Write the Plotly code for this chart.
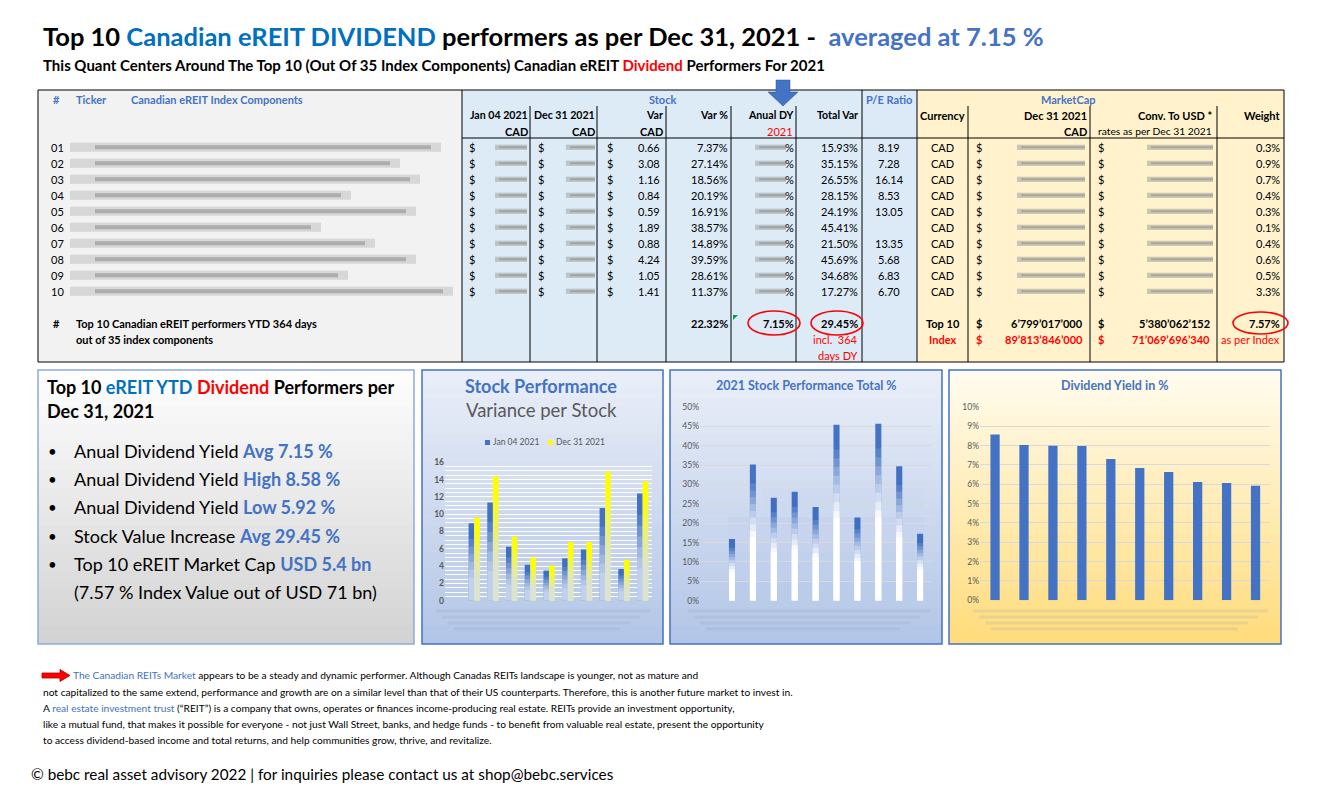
import plotly.graph_objects as go

# ======================= DATA =======================
row_ids = ["01", "02", "03", "04", "05", "06", "07", "08", "09", "10"]
jan_04_2021 = [8.96, 11.35, 6.25, 4.16, 3.49, 4.90, 5.91, 10.71, 3.67, 12.40]
dec_31_2021 = [9.62, 14.43, 7.41, 5.00, 4.08, 6.79, 6.79, 14.95, 4.72, 13.81]
var_cad = [0.66, 3.08, 1.16, 0.84, 0.59, 1.89, 0.88, 4.24, 1.05, 1.41]
var_pct = [7.37, 27.14, 18.56, 20.19, 16.91, 38.57, 14.89, 39.59, 28.61, 11.37]
total_var_pct = [15.93, 35.15, 26.55, 28.15, 24.19, 45.41, 21.50, 45.69, 34.68, 17.27]
pe_ratio = [8.19, 7.28, 16.14, 8.53, 13.05, None, 13.35, 5.68, 6.83, 6.70]
dividend_yield_pct = [8.58, 8.03, 7.99, 7.98, 7.31, 6.84, 6.64, 6.12, 6.07, 5.92]
weight_pct = [0.3, 0.9, 0.7, 0.4, 0.3, 0.1, 0.4, 0.6, 0.5, 3.3]
currency = ["CAD"] * 10

avg_var_pct = 22.32
avg_dividend_yield = 7.15
avg_total_var = 29.45
top10_mcap_cad = 6799017000
top10_mcap_usd = 5380062152
index_mcap_cad = 89813846000
index_mcap_usd = 71069696340
top10_weight_pct = 7.57

# ======================= HELPERS =======================
W, H = 1332, 800
FONT = "Lato, 'Open Sans', sans-serif"
NARROW = "'Liberation Sans Narrow', Lato, sans-serif"
BLUE = "#4472c4"
DBLUE = "#0070c0"
RED = "#ff0000"
GREY = "#595959"
TS = 11  # table font size


def px(x):
    return x / W


def py(y):
    return 1 - y / H


ann = []
shp = []


def txt(x, y, s, size=TS, color="#000000", bold=False, anchor="left", family=FONT):
    if bold:
        s = "<b>" + s + "</b>"
    ann.append(dict(x=px(x), y=py(y), xref="paper", yref="paper", text=s, showarrow=False,
                    xanchor=anchor, yanchor="middle", borderpad=0,
                    font=dict(size=size, color=color, family=family)))


def rect(x0, y0, x1, y1, fill="rgba(0,0,0,0)", line="rgba(0,0,0,0)", lw=0, layer="below", opacity=1.0):
    shp.append(dict(type="rect", xref="paper", yref="paper", x0=px(x0), x1=px(x1), y0=py(y1), y1=py(y0),
                    fillcolor=fill, line=dict(color=line, width=lw), layer=layer, opacity=opacity))


def seg(x0, y0, x1, y1, color="#000000", lw=1, layer="above"):
    shp.append(dict(type="line", xref="paper", yref="paper", x0=px(x0), y0=py(y0), x1=px(x1), y1=py(y1),
                    line=dict(color=color, width=lw), layer=layer))


def poly(points, fill, line=None, lw=0, layer="above"):
    d = "M " + " L ".join(f"{px(a):.5f},{py(b):.5f}" for a, b in points) + " Z"
    shp.append(dict(type="path", xref="paper", yref="paper", path=d, fillcolor=fill,
                    line=dict(color=line or fill, width=lw), layer=layer))


def ellipse(x0, y0, x1, y1, color=RED, lw=1.6):
    shp.append(dict(type="circle", xref="paper", yref="paper", x0=px(x0), x1=px(x1), y0=py(y1), y1=py(y0),
                    line=dict(color=color, width=lw), fillcolor="rgba(0,0,0,0)", layer="above"))


def hexrgb(h):
    return tuple(int(h[i:i + 2], 16) for i in (1, 3, 5))


def vgrad(x0, y0, x1, y1, ctop, cbot, n=30):
    a, b = hexrgb(ctop), hexrgb(cbot)
    step = (y1 - y0) / n
    for i in range(n):
        t = i / (n - 1)
        c = tuple(round(a[k] + (b[k] - a[k]) * t) for k in range(3))
        rect(x0, y0 + i * step, x1, min(y1, y0 + (i + 1) * step + 0.7), fill=f"rgb{c}")


def money(v):
    return f"{v:,}".replace(",", "\u2019")


# ======================= TITLE =======================
txt(42, 36, "Top 10 <span style='color:%s'>Canadian eREIT DIVIDEND</span> performers as per Dec 31, 2021 -  "
            "<span style='color:%s'>averaged at %.2f %%</span>" % (DBLUE, BLUE, avg_dividend_yield),
    size=25.5, bold=True)
txt(42, 65, "This Quant Centers Around The Top 10 (Out Of 35 Index Components) Canadian eREIT "
            "<span style='color:#ff0000'>Dividend</span> Performers For 2021", size=15, bold=True)

# ======================= TABLE =======================
TOP, BOT = 90, 362
rect(38, TOP, 462, BOT, fill="#f2f2f2")
rect(462, TOP, 862, BOT, fill="#ddebf7")
rect(862, TOP, 917, BOT, fill="#dce9f7")
rect(917, TOP, 1284, BOT, fill="#fff2cc")
rect(38, TOP, 1284, BOT, line="#000000", lw=1, layer="above")
for xv in (462, 862, 917):
    seg(xv, TOP, xv, BOT)
for xv in (530, 597, 666, 731, 796, 968, 1090, 1217):
    seg(xv, 106, xv, BOT)
seg(462, 138, 1284, 138)

# header
txt(52, 99, "#", color=BLUE, bold=True)
txt(75, 99, "Ticker", color=BLUE, bold=True)
txt(130, 99, "Canadian eREIT Index Components", color=BLUE, bold=True)
txt(662, 99, "Stock", color=BLUE, bold=True, anchor="center")
txt(889, 99, "P/E Ratio", color=BLUE, bold=True, anchor="center")
txt(1068, 99, "MarketCap", color=BLUE, bold=True, anchor="center")
for xr, l1, l2 in [(529, "Jan 04 2021", "CAD"), (596, "Dec 31 2021", "CAD"), (664, "Var", "CAD"),
                   (729, "Var %", None), (794, "Anual DY", None), (859, "Total Var", None)]:
    txt(xr, 115, l1, size=10.6, bold=True, anchor="right")
    if l2:
        txt(xr, 131, l2, bold=True, anchor="right")
txt(794, 131, "2021", color=RED, anchor="right")
txt(943, 115, "Currency", bold=True, anchor="center")
txt(1088, 115, "Dec 31 2021", bold=True, anchor="right")
txt(1088, 131, "CAD", bold=True, anchor="right")
txt(1213, 115, "Conv. To USD *", bold=True, anchor="right")
txt(1213, 131, "rates as per Dec 31 2021", size=10.3, anchor="right")
txt(1281, 115, "Weight", bold=True, anchor="right")

# blue arrow above "Anual DY"
poly([(776, 80), (790, 80), (790, 92), (798, 92), (783, 106), (768, 92), (776, 92)],
     fill=BLUE, line="#2f528f", lw=0.5)

blur_end = [441, 400, 420, 351, 416, 321, 375, 416, 348, 453]


def redact(x0, x1, y, h=2.6):
    rect(x0, y - h, x1, y + h, fill="#a0a0a0", opacity=0.55, layer="above")
    rect(x0 + 4, y - 1, x1, y + 1, fill="#6e6e6e", opacity=0.35, layer="above")


for i, rid in enumerate(row_ids):
    y = 147.3 + 16 * i
    txt(50, y, rid)
    rect(70, y - 4.5, blur_end[i], y + 4.5, fill="#b5b5b5", opacity=0.45, layer="above")
    rect(95, y - 2, blur_end[i] - 10, y + 2, fill="#7a7a7a", opacity=0.45, layer="above")
    txt(468, y, "$")
    redact(495, 527, y)
    txt(537, y, "$")
    redact(566, 595, y)
    txt(606, y, "$")
    txt(661, y, f"{var_cad[i]:.2f}", anchor="right")
    txt(729, y, f"{var_pct[i]:.2f}%", anchor="right")
    redact(755, 786, y)
    txt(795, y, "%", anchor="right")
    txt(859, y, f"{total_var_pct[i]:.2f}%", anchor="right")
    if pe_ratio[i] is not None:
        txt(889, y, f"{pe_ratio[i]:.2f}", anchor="center")
    txt(943, y, currency[i], anchor="center")
    txt(975, y, "$")
    redact(1017, 1085, y)
    txt(1097, y, "$")
    redact(1147, 1213, y)
    txt(1281, y, f"{weight_pct[i]:.1f}%", anchor="right")

# summary rows
txt(52, 323, "#", bold=True)
txt(75, 323, "Top 10 Canadian eREIT performers YTD 364 days", bold=True)
txt(75, 339, "out of 35 index components", bold=True)
txt(729, 323, f"{avg_var_pct:.2f}%", bold=True, anchor="right")
txt(795, 323, f"{avg_dividend_yield:.2f}%", bold=True, anchor="right")
txt(859, 323, f"{avg_total_var:.2f}%", bold=True, anchor="right")
txt(859, 339, "incl.  364", color=RED, anchor="right")
txt(859, 355, "days DY", color=RED, anchor="right")
txt(943, 323, "Top 10", bold=True, anchor="center")
txt(943, 339, "Index", color=RED, bold=True, anchor="center")
txt(975, 323, "$", bold=True)
txt(1084, 323, money(top10_mcap_cad), bold=True, anchor="right")
txt(1097, 323, "$", bold=True)
txt(1211, 323, money(top10_mcap_usd), bold=True, anchor="right")
txt(1281, 323, f"{top10_weight_pct:.2f}%", bold=True, anchor="right")
txt(975, 339, "$", color=RED, bold=True)
txt(1084, 339, money(index_mcap_cad), color=RED, bold=True, anchor="right")
txt(1097, 339, "$", color=RED, bold=True)
txt(1211, 339, money(index_mcap_usd), color=RED, bold=True, anchor="right")
txt(1281, 339, "as per Index", color=RED, anchor="right")
poly([(733, 315), (738, 315), (733, 320)], fill="#00a050")
ellipse(748, 311, 800, 335)
ellipse(811, 311, 863, 335)
ellipse(1233, 312, 1288, 334)

# ======================= BOTTOM PANELS =======================
vgrad(38, 370, 414, 644, "#fdfdfd", "#d3d3d3")
rect(38, 370, 414, 644, line="#8faadc", lw=1.5)
vgrad(422, 370, 663, 644, "#e9eef8", "#b3c6e7")
rect(422, 370, 663, 644, line=BLUE, lw=1.5)
vgrad(670, 370, 942, 644, "#e9eef8", "#b3c6e7")
rect(670, 370, 942, 644, line=BLUE, lw=1.5)
vgrad(949, 370, 1281, 644, "#fffbee", "#ffdc7c")
rect(949, 370, 1281, 644, line=BLUE, lw=1.5)

# left text panel
txt(46, 387, "Top 10 <span style='color:%s'>eREIT YTD</span> <span style='color:#ff0000'>Dividend</span> "
             "Performers per" % DBLUE, size=18, bold=True)
txt(46, 411, "Dec 31, 2021", size=18, bold=True)
bullets = [
    ("Anual Dividend Yield ", "Avg %.2f %%" % avg_dividend_yield),
    ("Anual Dividend Yield ", "High %.2f %%" % max(dividend_yield_pct)),
    ("Anual Dividend Yield ", "Low %.2f %%" % min(dividend_yield_pct)),
    ("Stock Value Increase ", "Avg %.2f %%" % avg_total_var),
    ("Top 10 eREIT Market Cap ", "USD %.1f bn" % (top10_mcap_usd / 1e9)),
]
for k, (a, b) in enumerate(bullets):
    yy = 451 + k * 28.2
    txt(47, yy, "\u2022", size=15)
    txt(73, yy, a + "<b><span style='color:%s'>%s</span></b>" % (BLUE, b), size=18)
txt(73, 592, "(%.2f %% Index Value out of USD %d bn)" % (top10_weight_pct, round(index_mcap_usd / 1e9)), size=18)

# chart titles
txt(541, 386, "Stock Performance", size=18, color=BLUE, bold=True, anchor="center")
txt(541, 410, "Variance per Stock", size=18.5, color=GREY, anchor="center")
rect(485, 440, 490, 445, fill=BLUE, layer="above")
txt(492, 442, "Jan 04 2021", size=8.5, color=GREY)
rect(548, 440, 553, 445, fill="#ffff00", layer="above")
txt(555, 442, "Dec 31 2021", size=8.5, color=GREY)
txt(806, 386, "2021 Stock Performance Total %", size=12.5, color=BLUE, bold=True, anchor="center")
txt(1115, 386, "Dividend Yield in %", size=12.5, color=BLUE, bold=True, anchor="center")

# blurred (redacted) category labels under the charts
for (x0, x1) in [(448, 650), (700, 930), (985, 1268)]:
    for j, yy in enumerate([611, 617, 623, 629]):
        rect(x0 + 6 * j - 12, yy - 1.5, x1 - 10 * j, yy + 1.5, fill="#8a9bb8", opacity=0.18, layer="above")

# ======================= FOOTER =======================
poly([(42, 673), (60, 673), (60, 669.5), (70, 675.5), (60, 681.5), (60, 678), (42, 678)],
     fill=RED, line="#b00000", lw=0.8)
footer = [
    (72, 675, "<span style='color:%s'>The Canadian REITs Market</span> appears to be a steady and dynamic performer. "
              "Although Canadas REITs landscape is younger, not as mature and" % BLUE),
    (42, 692, "not capitalized to the same extend, performance and growth are on a similar level than that of their "
              "US counterparts. Therefore, this is another future market to invest in."),
    (42, 708, "A <span style='color:%s'>real estate investment trust</span> (\u201cREIT\u201d) is a company that owns, "
              "operates or finances income-producing real estate. REITs provide an investment opportunity," % BLUE),
    (42, 724, "like a mutual fund, that makes it possible for everyone - not just Wall Street, banks, and hedge funds - "
              "to benefit from valuable real estate, present the opportunity"),
    (42, 740, "to access dividend-based income and total returns, and help communities grow, thrive, and revitalize."),
]
for x, y, s in footer:
    txt(x, y, s, size=10.2, family=NARROW)
txt(30, 774, "\u00a9 bebc real asset advisory 2022 | for inquiries please contact us at shop@bebc.services", size=15.3)

# ======================= CHARTS =======================
fig = go.Figure()

# chart 1 : Stock Performance (grouped via offsets)
BG1 = "#d6e0f3"
fig.add_bar(x=row_ids, y=jan_04_2021, name="Jan 04 2021", marker_color=BLUE, width=0.3, offset=-0.3,
            xaxis="x", yaxis="y", marker_line_width=0)
fig.add_bar(x=row_ids, y=dec_31_2021, name="Dec 31 2021", marker_color="#ffff00", width=0.3, offset=0.0,
            xaxis="x", yaxis="y", marker_line_width=0)
for f, op in [(0.8, 0.15), (0.7, 0.2), (0.6, 0.25), (0.5, 0.3), (0.4, 0.35), (0.3, 0.4)]:
    fig.add_bar(x=row_ids, y=[v * f for v in jan_04_2021], marker_color=BG1, opacity=op, width=0.3, offset=-0.3,
                xaxis="x", yaxis="y", marker_line_width=0, hoverinfo="skip", showlegend=False)
    fig.add_bar(x=row_ids, y=[v * f for v in dec_31_2021], marker_color=BG1, opacity=op, width=0.3, offset=0.0,
                xaxis="x", yaxis="y", marker_line_width=0, hoverinfo="skip", showlegend=False)

# chart 2 : Total %
fig.add_bar(x=row_ids, y=total_var_pct, name="Total Var", marker_color=BLUE, width=0.29,
            xaxis="x2", yaxis="y2", marker_line_width=0)
for f, op in [(0.86, 0.12), (0.81, 0.15), (0.76, 0.18), (0.71, 0.22), (0.66, 0.27), (0.61, 0.33),
              (0.56, 0.45), (0.51, 0.65), (0.47, 1.0)]:
    fig.add_bar(x=row_ids, y=[v * f for v in total_var_pct], marker_color="#ffffff", opacity=op, width=0.29,
                xaxis="x2", yaxis="y2", marker_line_width=0, hoverinfo="skip", showlegend=False)

# chart 3 : Dividend yield
fig.add_bar(x=row_ids, y=dividend_yield_pct, name="Dividend Yield", marker_color=BLUE, width=0.32,
            xaxis="x3", yaxis="y3", marker_line_width=0)

tickf = dict(size=8.5, color=GREY, family=FONT)
xcommon = dict(type="category", showticklabels=False, showgrid=False, zeroline=False, showline=False,
               fixedrange=True, ticks="", automargin=False)
fig.update_layout(
    xaxis=dict(domain=[px(445), px(652)], range=[-1.56, 9.5], anchor="y", **xcommon),
    yaxis=dict(domain=[py(600.7), py(462.3)], range=[0, 16], dtick=2, anchor="x", gridcolor="#ffffff",
               gridwidth=1, zeroline=False, showline=False, automargin=False,
               tickfont=dict(size=8.5, color=GREY, family=FONT, weight="bold"),
               minor=dict(dtick=0.5, showgrid=True, gridcolor="#ffffff", gridwidth=1), fixedrange=True),
    xaxis2=dict(domain=[px(700), px(931)], range=[-1.53, 9.52], anchor="y2", **xcommon),
    yaxis2=dict(domain=[py(600.7), py(407)], range=[0, 50], dtick=5, ticksuffix="%", anchor="x2",
                gridcolor="#d9d9d9", zeroline=False, showline=False, tickfont=tickf, fixedrange=True,
                automargin=False),
    xaxis3=dict(domain=[px(980), px(1270)], range=[-0.52, 9.5], anchor="y3", **xcommon),
    yaxis3=dict(domain=[py(600.3), py(407)], range=[0, 10], dtick=1, ticksuffix="%", anchor="x3",
                gridcolor="#d9d9d9", zeroline=False, showline=False, tickfont=tickf, fixedrange=True,
                automargin=False),
    barmode="overlay",
    showlegend=False,
    width=W, height=H,
    margin=dict(l=0, r=0, t=0, b=0, pad=0, autoexpand=False),
    paper_bgcolor="#ffffff",
    plot_bgcolor="rgba(0,0,0,0)",
    font=dict(family=FONT),
    annotations=ann,
    shapes=shp,
)

fig.write_html("out.html", config={"displayModeBar": False, "staticPlot": True},
               post_script="document.body.style.margin='0';document.body.style.overflow='hidden';")
